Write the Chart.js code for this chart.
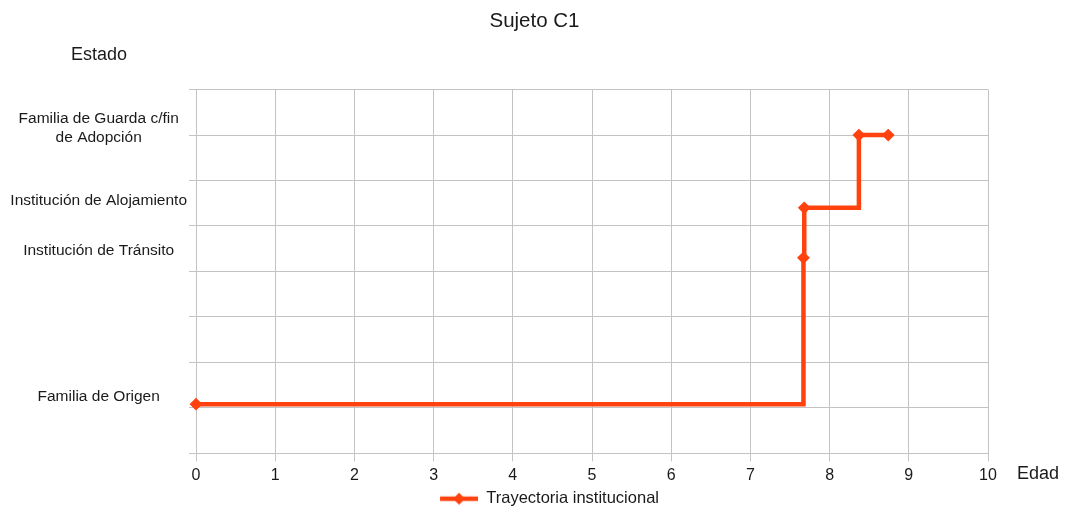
<!DOCTYPE html>
<html>
<head>
<meta charset="utf-8">
<script src="https://cdn.jsdelivr.net/npm/chart.js@4/dist/chart.umd.min.js"></script>
<style>
  body { margin: 0; background: #fff; }
  #wrap { width: 1069px; height: 507px; }
</style>
</head>
<body>
<div id="wrap"><canvas id="myChart"></canvas></div>
<script>
// estados (nivel en el eje y)
const estadoNombres = ['Familia de Origen', 'Institución de Tránsito', 'Institución de Alojamiento', ['Familia de Guarda c/fin', 'de Adopción']];
const estadoNivel = [1.08, 4.3, 5.4, 7.0];

// trayectoria: edad en años y estado (indice en estadoNombres)
const trayectoriaEdad = [0, 7.67, 7.68, 8.37, 8.74];
const trayectoriaEstado = [0, 1, 2, 3, 3];

const xTicks = [0, 1, 2, 3, 4, 5, 6, 7, 8, 9, 10];
const yGrid = [0, 1, 2, 3, 4, 5, 6, 7, 8];

const lineColor = '#ff420e';
const gridColor = '#c3c3c3';
const textColor = '#1a1a1a';

Chart.defaults.font.family = "'Liberation Sans', Arial, sans-serif";
Chart.defaults.color = textColor;

// legend symbol: line with a diamond, left part transparent
function legendSymbol() {
    const c = document.createElement('canvas');
    c.width = 68; c.height = 16;
    const g = c.getContext('2d');
    g.strokeStyle = lineColor;
    g.lineWidth = 4.5;
    g.beginPath(); g.moveTo(30, 8); g.lineTo(68, 8); g.stroke();
    g.fillStyle = lineColor;
    g.beginPath();
    g.moveTo(49, 2); g.lineTo(55, 8); g.lineTo(49, 14); g.lineTo(43, 8);
    g.closePath(); g.fill();
    return c;
}

const extraText = {
    id: 'extraText',
    afterDraw(chart) {
        const ctx = chart.ctx, a = chart.chartArea;
        ctx.save();
        ctx.fillStyle = textColor;
        ctx.font = "18px 'Liberation Sans', Arial, sans-serif";
        ctx.textAlign = 'center';
        ctx.textBaseline = 'middle';
        ctx.fillText('Estado', a.left - 97, a.top - 35);
        ctx.fillText('Edad', a.right + 50, a.bottom + 21);
        ctx.restore();
    }
};

const puntos = trayectoriaEdad.map((e, i) => ({ x: e, y: estadoNivel[trayectoriaEstado[i]] }));

const ctx = document.getElementById('myChart').getContext('2d');
const myChart = new Chart(ctx, {
    type: 'line',
    data: {
        datasets: [{
            label: 'Trayectoria institucional',
            data: puntos,
            stepped: true,
            borderColor: lineColor,
            backgroundColor: lineColor,
            borderWidth: 4.5,
            pointStyle: 'rectRot',
            pointRadius: 5,
            pointBorderWidth: 2,
            clip: false
        }]
    },
    options: {
        responsive: true,
        maintainAspectRatio: false,
        animation: false,
        layout: { padding: { top: 0, left: 0, right: 0, bottom: -10 } },
        plugins: {
            title: {
                display: true,
                text: 'Sujeto C1',
                color: textColor,
                font: { size: 20.5, weight: 'normal' },
                padding: { top: 9, bottom: 56 }
            },
            legend: {
                position: 'bottom',
                labels: {
                    usePointStyle: true,
                    pointStyle: legendSymbol(),
                    pointStyleWidth: 68,
                    padding: 0,
                    color: textColor,
                    font: { size: 16.5 }
                }
            },
            tooltip: { enabled: false }
        },
        scales: {
            x: {
                type: 'linear',
                min: 0,
                max: 10,
                afterBuildTicks: s => { s.ticks = xTicks.map(v => ({ value: v })); },
                grid: { color: gridColor, tickLength: 8, tickColor: gridColor },
                border: { color: gridColor },
                ticks: { padding: 5, font: { size: 16 }, color: textColor }
            },
            y: {
                type: 'linear',
                min: 0,
                max: 8,
                afterBuildTicks: s => {
                    const vals = yGrid.concat(estadoNivel.filter(v => !yGrid.includes(v)));
                    vals.sort((a, b) => a - b);
                    s.ticks = vals.map(v => ({ value: v }));
                },
                afterFit: s => { s.width = 196; },
                grid: {
                    color: c => yGrid.includes(c.tick.value) ? gridColor : 'rgba(0,0,0,0)',
                    tickColor: c => yGrid.includes(c.tick.value) ? gridColor : 'rgba(0,0,0,0)',
                    tickLength: 7
                },
                border: { color: gridColor },
                ticks: {
                    autoSkip: false,
                    crossAlign: 'center',
                    padding: 2,
                    labelOffset: -7,
                    color: textColor,
                    font: { size: 15.5 },
                    callback: v => {
                        const i = estadoNivel.indexOf(v);
                        return i >= 0 ? estadoNombres[i] : '';
                    }
                }
            },
            y2: {
                type: 'linear',
                position: 'right',
                display: true,
                grid: { display: false },
                border: { display: false },
                ticks: { display: false },
                afterFit: s => { s.width = 81; }
            }
        }
    },
    plugins: [extraText]
});
</script>
</body>
</html>
